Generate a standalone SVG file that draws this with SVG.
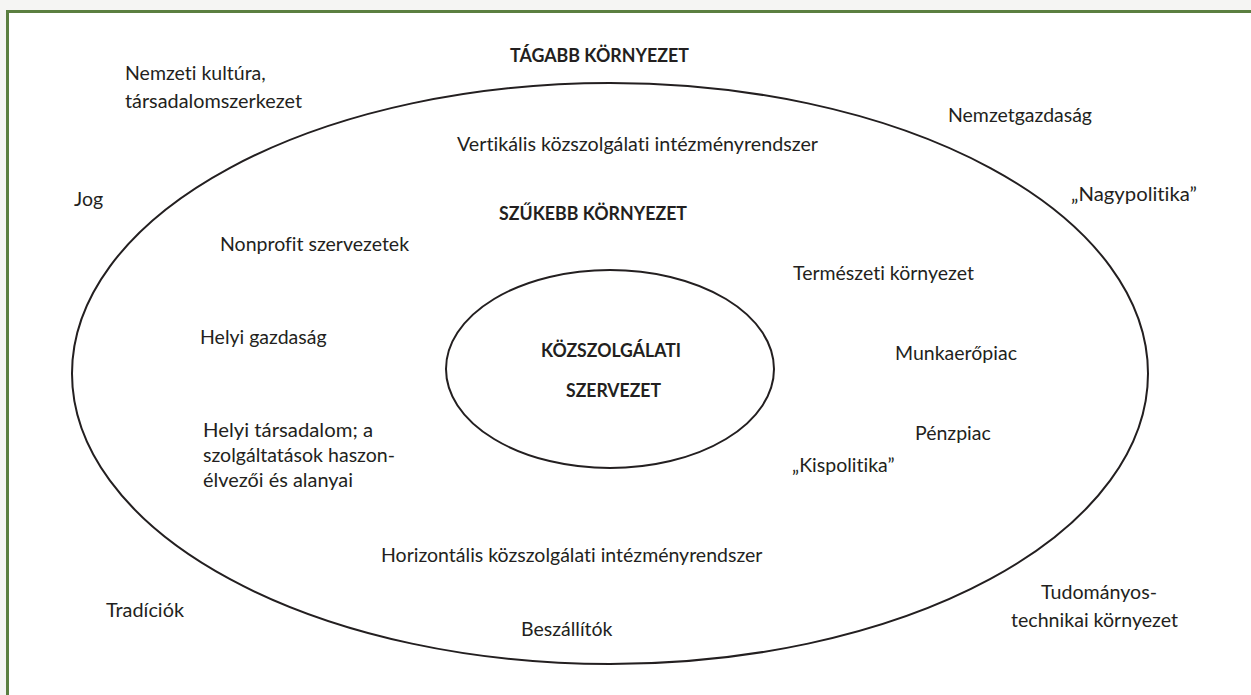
<svg xmlns="http://www.w3.org/2000/svg" width="1251" height="695" viewBox="0 0 1251 695">
  <style>
    .lbl { font-family: Lato, "Liberation Sans", sans-serif; font-size: 19.5px; fill: #231f20;
           font-variant-ligatures: none; font-feature-settings: "liga" 0, "clig" 0; }
    .bold { font-weight: 700; }
    .ring { fill: none; stroke: #231f20; stroke-width: 2; }
  </style>
  <!-- page background and green frame -->
  <rect x="0" y="0" width="1251" height="695" fill="#f5f5f3"/>
  <rect x="7.5" y="11.5" width="1260" height="700" fill="#ffffff" stroke="#5b7f40" stroke-width="3"/>

  <g id="connectors"></g>

  <!-- outer environment ring -->
  <g id="outer-ring">
    <ellipse class="ring" cx="610" cy="373.5" rx="538" ry="290.5"/>
  </g>
  <!-- inner organisation -->
  <g id="organisation">
    <ellipse class="ring" cx="610" cy="369" rx="164" ry="99"/>
    <text class="lbl bold" x="541" y="357" textLength="140" lengthAdjust="spacingAndGlyphs">KÖZSZOLGÁLATI</text>
    <text class="lbl bold" x="566" y="397" textLength="95" lengthAdjust="spacingAndGlyphs">SZERVEZET</text>
  </g>

  <!-- wider environment -->
  <g id="wider-title"><text class="lbl bold" x="510" y="62" textLength="179" lengthAdjust="spacingAndGlyphs">TÁGABB KÖRNYEZET</text></g>
  <g id="national-culture">
    <text class="lbl" x="125" y="80">Nemzeti kultúra,</text>
    <text class="lbl" x="125" y="108" textLength="177" lengthAdjust="spacingAndGlyphs">társadalomszerkezet</text>
  </g>
  <g id="national-economy"><text class="lbl" x="948" y="122" textLength="144" lengthAdjust="spacingAndGlyphs">Nemzetgazdaság</text></g>
  <g id="big-politics"><text class="lbl" x="1071" y="201" textLength="126" lengthAdjust="spacingAndGlyphs">„Nagypolitika”</text></g>
  <g id="law"><text class="lbl" x="74" y="206">Jog</text></g>
  <g id="traditions"><text class="lbl" x="106" y="617" textLength="78" lengthAdjust="spacingAndGlyphs">Tradíciók</text></g>
  <g id="science-tech">
    <text class="lbl" x="1041" y="599" textLength="116" lengthAdjust="spacingAndGlyphs">Tudományos-</text>
    <text class="lbl" x="1011" y="627" textLength="167" lengthAdjust="spacingAndGlyphs">technikai környezet</text>
  </g>

  <!-- narrower environment -->
  <g id="vertical-system"><text class="lbl" x="457" y="151" textLength="361" lengthAdjust="spacingAndGlyphs">Vertikális közszolgálati intézményrendszer</text></g>
  <g id="narrower-title"><text class="lbl bold" x="499" y="220" textLength="188" lengthAdjust="spacingAndGlyphs">SZŰKEBB KÖRNYEZET</text></g>
  <g id="nonprofit"><text class="lbl" x="220" y="251">Nonprofit szervezetek</text></g>
  <g id="natural-env"><text class="lbl" x="793" y="280">Természeti környezet</text></g>
  <g id="local-economy"><text class="lbl" x="200" y="344">Helyi gazdaság</text></g>
  <g id="labour-market"><text class="lbl" x="895" y="360">Munkaerőpiac</text></g>
  <g id="local-society">
    <text class="lbl" x="203" y="437" textLength="170" lengthAdjust="spacingAndGlyphs">Helyi társadalom; a</text>
    <text class="lbl" x="203" y="462" textLength="192" lengthAdjust="spacingAndGlyphs">szolgáltatások haszon-</text>
    <text class="lbl" x="203" y="487" textLength="150" lengthAdjust="spacingAndGlyphs">élvezői és alanyai</text>
  </g>
  <g id="money-market"><text class="lbl" x="915" y="440">Pénzpiac</text></g>
  <g id="small-politics"><text class="lbl" x="792" y="472">„Kispolitika”</text></g>
  <g id="horizontal-system"><text class="lbl" x="381" y="562">Horizontális közszolgálati intézményrendszer</text></g>
  <g id="suppliers"><text class="lbl" x="521" y="636">Beszállítók</text></g>
</svg>
